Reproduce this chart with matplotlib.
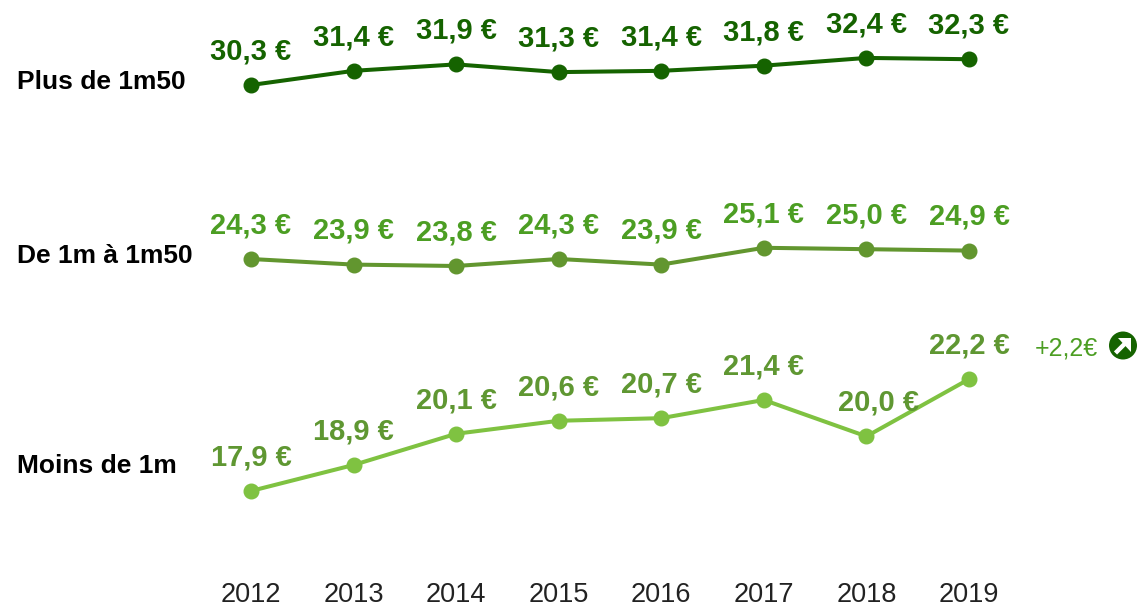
import matplotlib
matplotlib.use("Agg")
import matplotlib.pyplot as plt
from matplotlib.patches import Circle, Polygon
from matplotlib.lines import Line2D

plt.rcParams['font.family'] = ['Liberation Sans', 'DejaVu Sans']

years = [2012, 2013, 2014, 2015, 2016, 2017, 2018, 2019]
tall = [30.3, 31.4, 31.9, 31.3, 31.4, 31.8, 32.4, 32.3]
mid = [24.3, 23.9, 23.8, 24.3, 23.9, 25.1, 25.0, 24.9]
small = [17.9, 18.9, 20.1, 20.6, 20.7, 21.4, 20.0, 22.2]
names = ["Plus de 1m50", "De 1m à 1m50", "Moins de 1m"]
delta = "+2,2€"

W, H = 1137, 608
fig = plt.figure(figsize=(W / 100, H / 100), dpi=100, facecolor='white')

XLIM = (2009.553, 2020.638)
rows = [
    (tall, (-10.24, 36.89), '#156300', '#156300', 82),
    (mid, (-0.63, 42.80), '#62962f', '#4c9e23', 256),
    (small, (13.40, 36.78), '#7fc241', '#5f9732', 466),
]

axes = []
for (vals, ylim, line_c, text_c, name_y), name in zip(rows, names):
    ax = fig.add_axes([0, 0, 1, 1], facecolor='none')
    ax.set_xlim(*XLIM)
    ax.set_ylim(*ylim)
    ax.axis('off')
    ax.plot(years, vals, color=line_c, lw=2.9, marker='o', ms=10.5,
            mec=line_c, mfc=line_c, solid_joinstyle='round', clip_on=False)
    for x, v in zip(years, vals):
        dx = 9 if (name == names[2] and v == 20.0) else 0
        ax.annotate(f"{v:.1f} €".replace('.', ','), (x, v), xytext=(dx, 24.2),
                    textcoords='offset points', ha='center', va='center',
                    fontsize=21, fontweight='bold', color=text_c)
    fig.text(17 / W, 1 - name_y / H, name, ha='left', va='center',
             fontsize=19, fontweight='bold', color='black')
    axes.append(ax)

# x-axis labels
for x in years:
    axes[0].annotate(str(x), (x, 0), xycoords=axes[0].get_xaxis_transform(),
                     xytext=(x, 5.5 / H), textcoords=axes[0].get_xaxis_transform(),
                     ha='center', va='baseline', fontsize=19.5, color='#222222')

# variation note and arrow badge
fig.text(1066.5 / W, 1 - 348.5 / H, delta, ha='center', va='center',
         fontsize=18, color='#4c9e23')
fig.add_artist(Circle((1123, H - 345.5), 14, transform=None,
                      facecolor='#156300', edgecolor='none'))
fig.add_artist(Line2D([1115.5, 1125], [H - 353, H - 343.5], transform=None,
                      color='white', lw=3.2, solid_capstyle='butt'))
fig.add_artist(Polygon([(1117.5, H - 338), (1131, H - 338), (1131, H - 351.5)],
                       closed=True, transform=None, facecolor='white',
                       edgecolor='none'))

fig.savefig('out.png', dpi=100)
